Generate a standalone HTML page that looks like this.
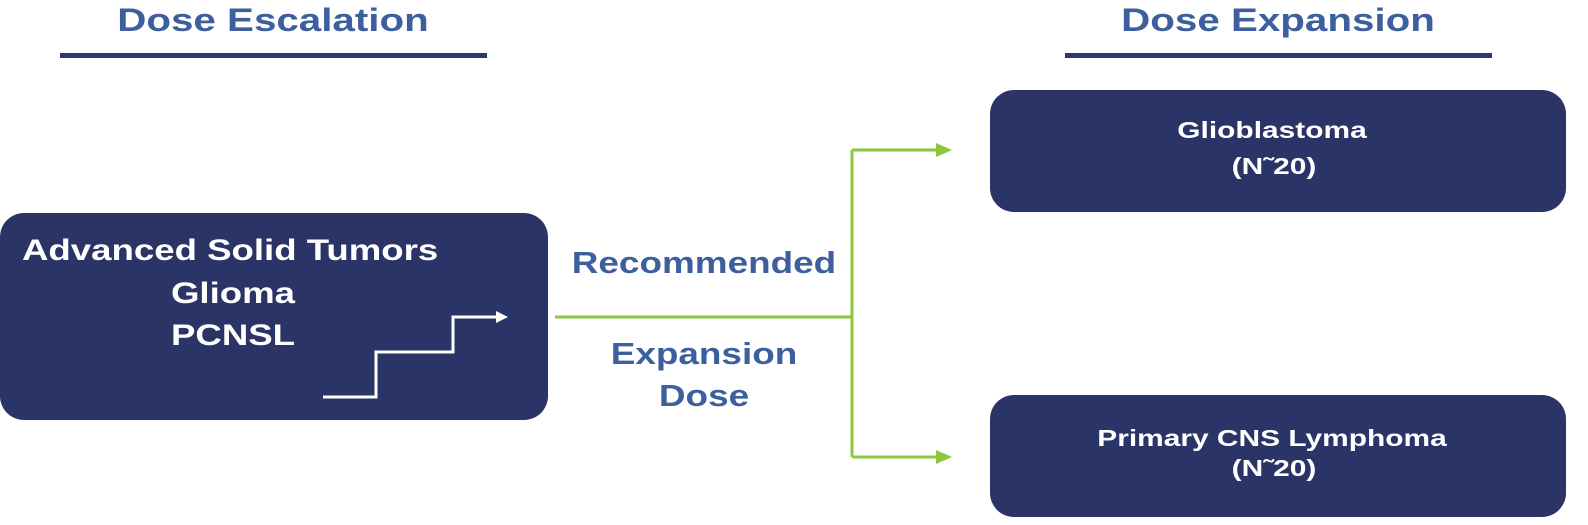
<!DOCTYPE html>
<html><head><style>
body{margin:0;width:1588px;height:525px;background:#fff;overflow:hidden;font-family:"Liberation Sans",Arial,sans-serif;font-weight:bold}
.a{position:absolute;white-space:nowrap}
.t{color:#3d5f9e;font-size:32px;transform:translateX(-50%) scaleX(1.26)}
.box{position:absolute;background:#2b3467;border-radius:24px}
.w{color:#fff}
.c{transform:translateX(-50%) scaleX(1.22)}
.s{transform:translateX(-50%) scaleX(1.3)}
</style></head><body>
<div class="a t" style="left:273px;top:2px">Dose Escalation</div>
<div class="a" style="left:60px;top:53px;width:427px;height:5px;background:#2b3a6e"></div>
<div class="a t" style="left:1278px;top:2px">Dose Expansion</div>
<div class="a" style="left:1065px;top:53px;width:427px;height:5px;background:#2b3a6e"></div>

<div class="box" style="left:0;top:213px;width:548px;height:207px"></div>
<div class="a w" style="left:22px;top:234px;font-size:30px;transform:scaleX(1.22);transform-origin:left">Advanced Solid Tumors</div>
<div class="a w c" style="left:233px;top:277px;font-size:30px">Glioma</div>
<div class="a w c" style="left:233px;top:319px;font-size:30px">PCNSL</div>

<div class="box" style="left:990px;top:90px;width:576px;height:122px"></div>
<div class="a w s" style="left:1272px;top:117px;font-size:23px">Glioblastoma</div>
<div class="a w s" style="left:1274px;top:153px;font-size:23px">(N˜20)</div>
<div class="box" style="left:990px;top:395px;width:576px;height:122px"></div>
<div class="a w s" style="left:1272px;top:425px;font-size:23px">Primary CNS Lymphoma</div>
<div class="a w s" style="left:1274px;top:455px;font-size:23px">(N˜20)</div>

<div class="a t" style="left:704px;top:245px;font-size:31px;transform:translateX(-50%) scaleX(1.19)">Recommended</div>
<div class="a t" style="left:704px;top:336px;font-size:31px;transform:translateX(-50%) scaleX(1.19)">Expansion</div>
<div class="a t" style="left:704px;top:378px;font-size:31px;transform:translateX(-50%) scaleX(1.19)">Dose</div>

<svg class="a" style="left:0;top:0" width="1588" height="525">
<polyline points="323,397 376,397 376,352 453,352 453,317 498,317" fill="none" stroke="#fff" stroke-width="3"/>
<polygon points="508,317 496,311 496,323" fill="#fff"/>
<g stroke="#8dc63f" stroke-width="3" fill="none">
<line x1="555" y1="317" x2="852" y2="317"/>
<line x1="852" y1="150" x2="852" y2="457"/>
<line x1="852" y1="150" x2="938" y2="150"/>
<line x1="852" y1="457" x2="938" y2="457"/>
</g>
<polygon points="952,150 936,143 936,157" fill="#8dc63f"/>
<polygon points="952,457 936,450 936,464" fill="#8dc63f"/>
</svg>
</body></html>
